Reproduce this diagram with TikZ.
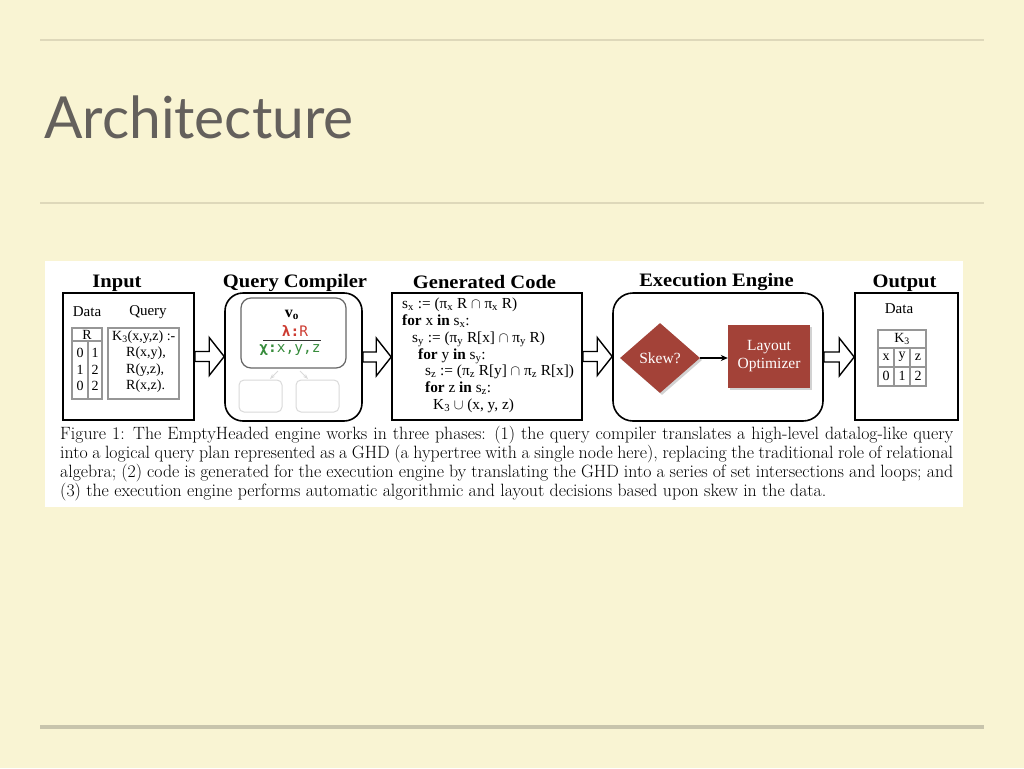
\documentclass[tikz,border=0pt]{standalone}
\usepackage{fontspec}
\setmainfont{Liberation Serif}
\newfontfamily\titlefont{Lato}
\newfontfamily\monofnt{DejaVu Sans Mono}
\newfontfamily\capfont{Latin Modern Roman}
\usetikzlibrary{shapes.geometric,shadows,calc,arrows.meta}
\definecolor{bg}{RGB}{249,244,211}
\definecolor{rule}{RGB}{222,216,186}
\definecolor{rulebot}{RGB}{200,196,172}
\definecolor{titlegray}{RGB}{100,96,92}
\definecolor{tabgray}{RGB}{150,150,150}
\definecolor{fadegray}{RGB}{218,218,218}
\definecolor{boxred}{RGB}{163,66,56}
\definecolor{lamred}{RGB}{205,60,50}
\definecolor{chigreen}{RGB}{55,140,60}
\newcommand\hollowarrow[2]{%
  \draw[harrow] let \p1=(#1.east), \p2=(#2.west) in
    (\x1,\y1+5pt) -- (\x2-15pt,\y1+5pt) -- (\x2-15pt,\y1+19pt) -- (\x2,\y1)
    -- (\x2-15pt,\y1-19pt) -- (\x2-15pt,\y1-5pt) -- (\x1,\y1-5pt) -- cycle;}
\newcommand\hdr[1]{\scalebox{1.08}[1]{#1}}
\begin{document}
\begin{tikzpicture}[x=1pt,y=-1pt,
  phase/.style={draw=black,line width=1.6pt,fill=white,inner sep=0pt},
  header/.style={font=\fontsize{19}{20}\selectfont\bfseries,inner sep=0pt},
  lbl/.style={font=\fontsize{15}{16}\selectfont,inner sep=0pt},
  small/.style={font=\fontsize{14}{15}\selectfont,inner sep=0pt},
  code/.style={font=\fontsize{15.3}{16}\selectfont,inner sep=0pt,anchor=base west},
  tab/.style={draw=tabgray,line width=1.2pt,inner sep=0pt},
  harrow/.style={draw=black,line width=1.4pt,fill=white,line join=miter},
  redshape/.style={fill=boxred,draw=none,text=white,inner sep=0pt,
    font=\fontsize{15.5}{18}\selectfont,align=center,
    drop shadow={shadow xshift=2pt,shadow yshift=-2pt,opacity=0.35}},
  fade/.style={draw=fadegray,line width=1pt,rounded corners=5pt,inner sep=0pt},
  captext/.style={font=\capfont\fontsize{17.8}{19}\selectfont,inner sep=0pt,anchor=base west}
]
\useasboundingbox (0,0) rectangle (1024,768);
\fill[bg] (0,0) rectangle (1024,768);
\draw[rule,line width=1.5pt] (40,40) -- (984,40);
\draw[rule,line width=1.5pt] (40,203) -- (984,203);
\draw[rulebot,line width=4pt] (40,727) -- (984,727);
\node[anchor=base west,inner sep=0pt,text=titlegray,font=\titlefont\fontsize{58}{60}\selectfont] (title) at (44,138) {\scalebox{0.98}[1]{Architecture}};

% figure panel
\fill[white] (45,261) rectangle (963,507);

% headers
\node[header] (hIn) at (117,283) {\hdr{Input}};
\node[header] (hQC) at (295,283) {\hdr{Query Compiler}};
\node[header] (hGC) at (484.5,282) {\hdr{Generated Code}};
\node[header] (hEE) at (716.5,282) {\hdr{Execution Engine}};
\node[header] (hOut) at (904.5,283) {\hdr{Output}};

% boxes
\node[phase,minimum width=131pt,minimum height=127pt] (inbox) at (128.5,356.5) {};
\node[phase,rounded corners=18pt,minimum width=137pt,minimum height=128pt] (qcbox) at (293.5,357) {};
\node[phase,minimum width=190pt,minimum height=127pt] (gcbox) at (487,356.5) {};
\node[phase,rounded corners=20pt,minimum width=210pt,minimum height=128pt] (eebox) at (718,357) {};
\node[phase,minimum width=103pt,minimum height=127pt] (outbox) at (906.5,356.5) {};

% hollow arrows
\hollowarrow{inbox}{qcbox}
\hollowarrow{qcbox}{gcbox}
\hollowarrow{gcbox}{eebox}
\hollowarrow{eebox}{outbox}

% Input contents
\node[lbl] (inData) at (87,312) {Data};
\node[lbl] (inQuery) at (148,312) {Query};
\node[tab,minimum width=30pt,minimum height=71pt] (rtab) at (87,363.5) {};
\draw[tabgray,line width=1.2pt] (72,341) -- (102,341);
\draw[tabgray,line width=1.2pt] (88,341) -- (88,399);
\node[small] (rhead) at (87,334.5) {R};
\node[small] (r11) at (80,353) {0};
\node[small] (r12) at (95,353) {1};
\node[small] (r21) at (80,370) {1};
\node[small] (r22) at (95,370) {2};
\node[small] (r31) at (80,386) {0};
\node[small] (r32) at (95,386) {2};
\node[tab,minimum width=71pt,minimum height=71pt] (qtab) at (143.5,363.5) {};
\node[small,anchor=west] (q1) at (112,337) {K\textsubscript{3}(x,y,z) :-};
\node[small,anchor=west] (q2) at (126,353) {R(x,y),};
\node[small,anchor=west] (q3) at (126,370) {R(y,z),};
\node[small,anchor=west] (q4) at (126,386) {R(x,z).};

% Query compiler contents
\node[draw=black!60,line width=1.2pt,rounded corners=10pt,minimum width=105pt,minimum height=70pt,inner sep=0pt] (ghd) at (293.5,333) {};
\node[inner sep=0pt,font=\fontsize{16}{17}\selectfont\bfseries] (v0) at (292,315) {v\textsubscript{o}};
\node[inner sep=0pt,text=lamred,font=\monofnt\fontsize{14.5}{15}\selectfont] (lam) at (295,331) {\textbf{λ:}R};
\draw[black!80,line width=0.8pt] (263,340) -- (321,340);
\node[inner sep=0pt,text=chigreen,font=\monofnt\fontsize{14.5}{15}\selectfont] (chi) at (290,350) {\textbf{χ:}x,y,z};
\node[fade,minimum width=43pt,minimum height=32pt] (c1) at (260.5,396) {};
\node[fade,minimum width=43pt,minimum height=32pt] (c2) at (317.5,396) {};
\draw[fadegray,line width=1pt,-{Stealth[length=5pt]}] (278,371) -- (270,379);
\draw[fadegray,line width=1pt,-{Stealth[length=5pt]}] (300,371) -- (308,379);

% Generated code
\node[code] (g1) at (402,308) {s\textsubscript{x} := (π\textsubscript{x} R $\cap$ π\textsubscript{x} R)};
\node[code] (g2) at (402,325) {\textbf{for} x \textbf{in} s\textsubscript{x}:};
\node[code] (g3) at (412,342) {s\textsubscript{y} := (π\textsubscript{y} R[x] $\cap$ π\textsubscript{y} R)};
\node[code] (g4) at (418,359) {\textbf{for} y \textbf{in} s\textsubscript{y}:};
\node[code] (g5) at (425,375) {s\textsubscript{z} := (π\textsubscript{z} R[y] $\cap$ π\textsubscript{z} R[x])};
\node[code] (g6) at (425,392) {\textbf{for} z \textbf{in} s\textsubscript{z}:};
\node[code] (g7) at (433,409) {K\textsubscript{3} $\cup$ (x, y, z)};

% Execution engine
\node[redshape,diamond,minimum width=80pt,minimum height=70pt,aspect=1.15] (skew) at (660,358) {Skew?};
\node[redshape,minimum width=82pt,minimum height=63pt] (layout) at (769,356.5) {Layout\\Optimizer};
\draw[black,line width=1.2pt,-{Stealth[length=7pt,width=6pt]}] (skew.east) -- (layout.west |- skew.east);

% Output
\node[lbl] (outData) at (899,309) {Data};
\node[tab,minimum width=48pt,minimum height=56pt] (ktab) at (902,358) {};
\draw[tabgray,line width=1.2pt] (878,348) -- (926,348);
\draw[tabgray,line width=1.2pt] (878,367) -- (926,367);
\draw[tabgray,line width=1.2pt] (894,348) -- (894,386);
\draw[tabgray,line width=1.2pt] (910,348) -- (910,386);
\node[small] (khead) at (902,339) {K\textsubscript{3}};
\node[small] (kx) at (886,357) {x};
\node[small] (ky) at (902,357) {y};
\node[small] (kz) at (918,357) {z};
\node[small] (k0) at (886,376) {0};
\node[small] (k1) at (902,376) {1};
\node[small] (k2) at (918,376) {2};

% caption
\node[captext] (cap1) at (60,439) {\makebox[893pt][s]{Figure 1: The EmptyHeaded engine works in three phases: (1) the query compiler translates a high-level datalog-like query}};
\node[captext] (cap2) at (60,458) {\makebox[893pt][s]{into a logical query plan represented as a GHD (a hypertree with a single node here), replacing the traditional role of relational}};
\node[captext] (cap3) at (60,477) {\makebox[893pt][s]{algebra; (2) code is generated for the execution engine by translating the GHD into a series of set intersections and loops; and}};
\node[captext] (cap4) at (60,496) {(3) the execution engine performs automatic algorithmic and layout decisions based upon skew in the data.};
\end{tikzpicture}
\end{document}
